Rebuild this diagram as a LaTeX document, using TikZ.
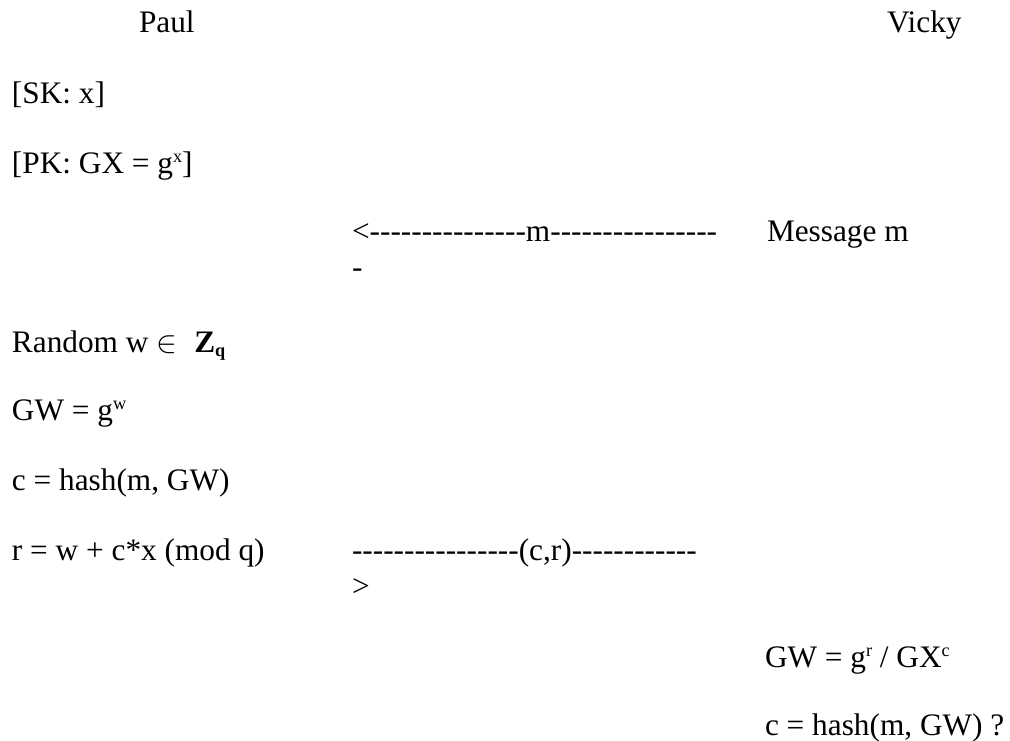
\documentclass[tikz,border=0pt]{standalone}
\usepackage{fontspec}
% plain hyphens: no -- / --- ligatures in the dashed arrows
\setmainfont{Liberation Serif}[Ligatures=TeXOff]
% superscript / subscript in the body font's style
\newcommand\upidx[1]{\raisebox{0.33em}{\fontsize{18.2pt}{18pt}\selectfont #1}}
\newcommand\loidx[1]{\raisebox{-0.14em}{\fontsize{18.2pt}{18pt}\selectfont #1}}
\begin{document}
\begin{tikzpicture}[x=1pt,y=-1pt,
  txt/.style={anchor=base west, inner sep=0pt, outer sep=0pt,
              font=\fontsize{31.3pt}{36pt}\selectfont}]
\useasboundingbox (0,0) rectangle (1010,740);

% parties
\node[txt] (paul)  at (139,32) {Paul};
\node[txt] (vicky) at (887,32) {Vicky};

% Paul's keys
\node[txt] (sk) at (12,103) {[SK: x]};
\node[txt] (pk) at (12,173) {[PK: GX = g\upidx{x}]};

% message from Vicky
\node[txt] (msgarrow) at (352,241) {<---------------m----------------};
\node[txt] (msgtail)  at (352,277) {-};
\node[txt] (msg)      at (767,241) {Message m};

% Paul signs
\node[txt] (rand) at (12,352) {Random w \scalebox{1.25}{\ensuremath{\in}}\hspace{0.3em} \textbf{Z\loidx{q}}};
\node[txt] (gw)   at (12,420) {GW = g\upidx{w}};
\node[txt] (ch)   at (12,490) {c = hash(m, GW)};
\node[txt] (resp) at (12,560) {r = w + c*x (mod q)};

% signature to Vicky
\node[txt] (sigarrow) at (352,560) {----------------(c,r)------------};
\node[txt] (sigtail)  at (352,596) {>};

% Vicky verifies
\node[txt] (vgw) at (765,667) {GW = g\upidx{r} / GX\upidx{c}};
\node[txt] (vch) at (765,735) {c = hash(m, GW) ?};
\end{tikzpicture}
\end{document}
